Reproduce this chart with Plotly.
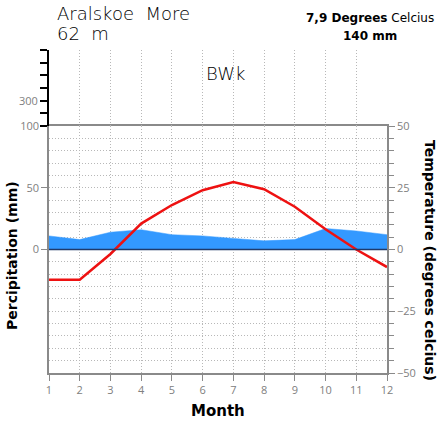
import plotly.graph_objects as go

months = list(range(1, 13))
temperature = [-12.2, -12.2, -1.8, 10.5, 18.0, 24.0, 27.3, 24.4, 17.3, 8.2, 0.0, -7.1]
precipitation = [11, 8, 14, 16, 12, 11, 9, 7, 8, 17, 15, 12]
upper_ticks = [100, 200, 300, 400, 500, 600, 700]
upper_labels = ["", "", "300", "", "", "", ""]

W, H = 446, 424
L, R, T, B = 49, 59, 50, 51
ph = H - T - B
d = 247 / ph

GRAY = "#8a8a8a"
GRID = "#b8b8b8"
DOT = "1px,2px"
TICKFONT = dict(family="Open Sans, DejaVu Sans, sans-serif", size=11, color="#808080")

fig = go.Figure()
fig.add_trace(go.Scatter(x=months, y=precipitation, mode="lines", fill="tozeroy",
                         line=dict(color="#3399ff", width=0.5), fillcolor="#3399ff",
                         xaxis="x", yaxis="y", showlegend=False, hoverinfo="skip"))
fig.add_trace(go.Scatter(x=months, y=temperature, mode="lines",
                         line=dict(color="#ee1111", width=2.5),
                         xaxis="x", yaxis="y2", showlegend=False))
fig.add_trace(go.Scatter(x=[1], y=[100], mode="markers", marker=dict(opacity=0),
                         xaxis="x", yaxis="y3", showlegend=False, hoverinfo="skip"))

fig.add_shape(type="line", xref="x", yref="y", x0=1, x1=12, y0=0, y1=0,
              line=dict(color="#1f3a6a", width=1.5))

fig.update_layout(
    width=W, height=H, margin=dict(l=L, r=R, t=T, b=B, autoexpand=False),
    paper_bgcolor="white", plot_bgcolor="white",
    xaxis=dict(range=[1, 12], tickvals=months, ticks="outside", ticklen=6, tickcolor=GRAY,
               showline=True, linecolor=GRAY, linewidth=1.5, mirror=True,
               showgrid=True, gridcolor=GRID, griddash=DOT, gridwidth=1,
               zeroline=False, tickfont=TICKFONT, anchor="y", automargin=False),
    yaxis=dict(domain=[0, d], range=[-100, 100], tickvals=[0, 50, 100], ticks="outside",
               ticklen=6, tickcolor=GRAY, showline=True, linecolor=GRAY, linewidth=1.5,
               showgrid=True, gridcolor=GRID, griddash=DOT, zeroline=False,
               minor=dict(dtick=10, showgrid=True, gridcolor=GRID, griddash=DOT),
               tickfont=TICKFONT, anchor="x", automargin=False),
    yaxis2=dict(overlaying="y", side="right", range=[-50, 50], tickvals=[-50, -25, 0, 25, 50],
                ticks="outside", ticklen=6, tickcolor=GRAY, showline=True, linecolor=GRAY,
                linewidth=1.5, showgrid=False, zeroline=False,
                minor=dict(dtick=5, ticks="outside", ticklen=5, tickcolor=GRAY),
                tickfont=TICKFONT, anchor="x", automargin=False),
    yaxis3=dict(domain=[d, 1], range=[100, 700], tickvals=upper_ticks, ticktext=upper_labels,
                ticks="outside", ticklen=7, tickcolor="black", tickwidth=1.5,
                showline=True, linecolor="black", linewidth=2, showgrid=False,
                zeroline=False, tickfont=TICKFONT, anchor="x", automargin=False),
)

def px_x(p):
    return (p - L) / (W - L - R)

def px_y(p):
    return (H - B - p) / ph

TITLEFONT = dict(family="DejaVu Sans, sans-serif", size=18, color="black", weight=300)
ann = [
    dict(text="Aralskoe  More", x=px_x(55), y=px_y(13), xanchor="left", font=TITLEFONT),
    dict(text="62  m", x=px_x(55), y=px_y(33), xanchor="left", font=TITLEFONT),
    dict(text="<b>7,9 Degrees</b> Celcius", x=px_x(370), y=px_y(18), xanchor="center",
         font=dict(family="DejaVu Sans, sans-serif", size=12, color="black")),
    dict(text="<b>140 mm</b>", x=px_x(370), y=px_y(36), xanchor="center",
         font=dict(family="DejaVu Sans, sans-serif", size=12, color="black")),
    dict(text="BWk", x=px_x(225), y=px_y(73), xanchor="center",
         font=dict(family="DejaVu Sans, sans-serif", size=18, color="black", weight=300)),
    dict(text="<b>Percipitation (mm)</b>", x=px_x(12), y=px_y(256), xanchor="center",
         textangle=-90, font=dict(family="DejaVu Sans, sans-serif", size=14, color="black")),
    dict(text="<b>Temperature (degrees celcius)</b>", x=px_x(430), y=px_y(260), xanchor="center",
         textangle=90, font=dict(family="DejaVu Sans, sans-serif", size=14, color="black")),
    dict(text="<b>Month</b>", x=px_x(218), y=px_y(411), xanchor="center",
         font=dict(family="DejaVu Sans, sans-serif", size=15, color="black")),
]
for a in ann:
    a.update(xref="paper", yref="paper", showarrow=False, yanchor="middle")
    fig.add_annotation(**a)

fig.write_html("out.html", config={"displayModeBar": False},
               post_script="document.body.style.margin='0';document.body.style.padding='0';")
